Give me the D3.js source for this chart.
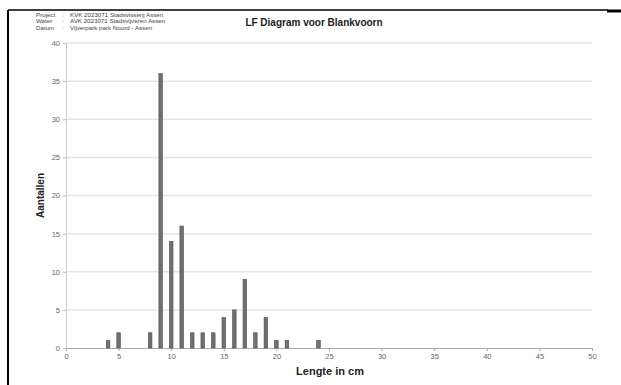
<!DOCTYPE html>
<html>
<head>
<meta charset="utf-8">
<script src="https://cdn.jsdelivr.net/npm/d3@7"></script>
<style>
  body { margin: 0; background: #fff; }
  text { font-family: "Liberation Sans", Arial, sans-serif; }
</style>
</head>
<body>
<div id="chart"></div>
<script>
// lengths (cm) and counts
var lengths = [4, 5, 8, 9, 10, 11, 12, 13, 14, 15, 16, 17, 18, 19, 20, 21, 24];
var counts  = [1, 2, 2, 36, 14, 16, 2, 2, 2, 4, 5, 9, 2, 4, 1, 1, 1];
var xTicks = [0, 5, 10, 15, 20, 25, 30, 35, 40, 45, 50];
var yTicks = [0, 5, 10, 15, 20, 25, 30, 35, 40];
var headerLabels = ["Project", "Water", "Datum"];
var headerValues = ["KVK 2023071 Stadsvisserij Assen", "AVK 2023071 Stadsvijveren Assen", "Vijverpark park Noord - Assen"];

var W = 621, H = 385;
var margin = {top: 43, right: 29, bottom: 37, left: 66};

var svg = d3.select("#chart").append("svg")
    .attr("width", W)
    .attr("height", H);

// page frame
svg.append("line").attr("x1", 8).attr("x2", 8).attr("y1", 10).attr("y2", H)
    .attr("stroke", "#000").attr("stroke-width", 2);
svg.append("line").attr("x1", 8).attr("x2", 608).attr("y1", 10).attr("y2", 10)
    .attr("stroke", "#000").attr("stroke-width", 1.5);
svg.append("line").attr("x1", 607).attr("x2", W).attr("y1", 11).attr("y2", 11)
    .attr("stroke", "#000").attr("stroke-width", 3);

// header block
headerLabels.forEach(function(l, i) {
    svg.append("text").attr("x", 36).attr("y", 17 + i * 6.3)
        .style("font-size", "6.2px").style("fill", "#444").text(l);
    svg.append("text").attr("x", 62).attr("y", 17 + i * 6.3)
        .style("font-size", "6.2px").style("fill", "#444").text(":");
    svg.append("text").attr("x", 70).attr("y", 17 + i * 6.3)
        .style("font-size", "6.2px").style("fill", "#444").text(headerValues[i]);
});

svg.append("text")
    .attr("x", 314).attr("y", 26)
    .attr("text-anchor", "middle")
    .style("font-size", "10px").style("font-weight", "bold").style("fill", "#222")
    .text("LF Diagram voor Blankvoorn");

var g = svg.append("g")
    .attr("transform", "translate(" + margin.left + "," + margin.top + ")");
var width = W - margin.left - margin.right,
    height = H - margin.top - margin.bottom;

var x = d3.scaleLinear().domain([0, 50]).range([0, width]);
var y = d3.scaleLinear().domain([0, 40]).range([height, 0]);

// gridlines
g.selectAll(".grid").data(yTicks.filter(function(d) { return d > 0; }))
    .enter().append("line")
    .attr("x1", 0).attr("x2", width)
    .attr("y1", function(d) { return y(d); }).attr("y2", function(d) { return y(d); })
    .attr("stroke", "#e4e4e4").attr("stroke-width", 1.5);

// y axis
var ya = g.append("g").call(d3.axisLeft(y).tickValues(yTicks).tickSize(3));
ya.select(".domain").attr("stroke", "#ccc");
ya.selectAll(".tick line").attr("stroke", "#bbb");
ya.selectAll(".tick text").style("font-size", "7.5px").style("fill", "#666").attr("x", -6);

// x axis
var xa = g.append("g").attr("transform", "translate(0," + height + ")")
    .call(d3.axisBottom(x).tickValues(xTicks).tickSize(3));
xa.select(".domain").attr("stroke", "#aaa");
xa.selectAll(".tick line").attr("stroke", "#aaa");
xa.selectAll(".tick text").style("font-size", "7.5px").style("fill", "#666").attr("y", 6);

// bars
var bw = 3.6;
g.selectAll(".bar").data(lengths)
    .enter().append("rect")
    .attr("x", function(d) { return x(d) - bw / 2; })
    .attr("y", function(d, i) { return y(counts[i]); })
    .attr("width", bw)
    .attr("height", function(d, i) { return height - y(counts[i]); })
    .attr("fill", "#707070")
    .attr("stroke", "#505050").attr("stroke-width", 0.6);

// axis titles
svg.append("text")
    .attr("transform", "translate(44," + (margin.top + y(20)) + ") rotate(-90)")
    .attr("text-anchor", "middle")
    .style("font-size", "10px").style("font-weight", "bold").style("fill", "#222")
    .text("Aantallen");

svg.append("text")
    .attr("x", 330).attr("y", 375)
    .attr("text-anchor", "middle")
    .style("font-size", "11px").style("font-weight", "bold").style("fill", "#222")
    .text("Lengte in cm");
</script>
</body>
</html>
